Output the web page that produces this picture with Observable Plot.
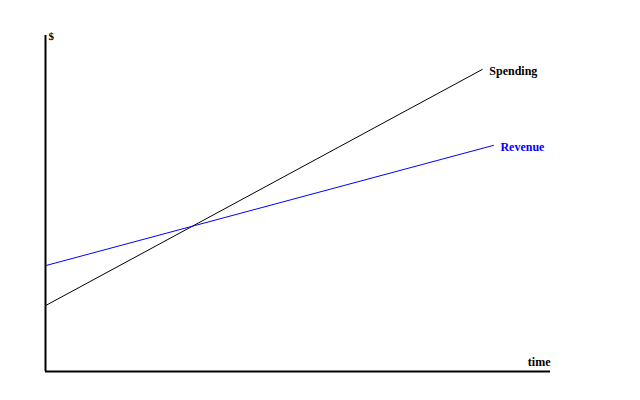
<!DOCTYPE html>
<html>
<head>
<meta charset="utf-8">
<script src="https://cdn.jsdelivr.net/npm/d3@7"></script>
<script src="https://cdn.jsdelivr.net/npm/@observablehq/plot@0.6"></script>
<style>
  html, body { margin: 0; padding: 0; background: #fff; }
</style>
</head>
<body>
<div id="chart"></div>
<script>
const series = ["Spending", "Revenue"];
const colors = ["black", "blue"];
const startX = [0, 0];
const endX = [86.5, 88.7];
const startY = [19.6, 31.5];
const endY = [89.9, 67.3];

const lines = [];
series.forEach((s, i) => {
  lines.push({series: s, t: startX[i], v: startY[i]});
  lines.push({series: s, t: endX[i], v: endY[i]});
});
const labels = series.map((s, i) => ({series: s, t: endX[i], v: endY[i], color: colors[i]}));

const font = "'Liberation Serif', 'DejaVu Serif', serif";

const chart = Plot.plot({
  width: 640,
  height: 400,
  marginLeft: 45,
  marginRight: 90,
  marginTop: 35,
  marginBottom: 29,
  x: {domain: [0, 100], axis: null},
  y: {domain: [0, 100], axis: null},
  color: {domain: series, range: colors},
  style: {fontFamily: font, background: "white"},
  marks: [
    Plot.line(lines, {x: "t", y: "v", z: "series", stroke: "series", strokeWidth: 1}),
    Plot.text(labels, {x: "t", y: "v", text: "series", fill: "series", textAnchor: "start", dx: 7, dy: 2, fontSize: 12, fontWeight: "bold"}),
    Plot.ruleX([0], {stroke: "black", strokeWidth: 2}),
    Plot.ruleY([0], {stroke: "black", strokeWidth: 2}),
    Plot.text(["$"], {x: 0, y: 100, dx: 3, dy: 1, textAnchor: "start", fontSize: 11, fontWeight: "bold"}),
    Plot.text(["time"], {x: 100, y: 0, dy: -9, textAnchor: "end", fontSize: 12, fontWeight: "bold"})
  ]
});
document.getElementById("chart").appendChild(chart);
</script>
</body>
</html>
